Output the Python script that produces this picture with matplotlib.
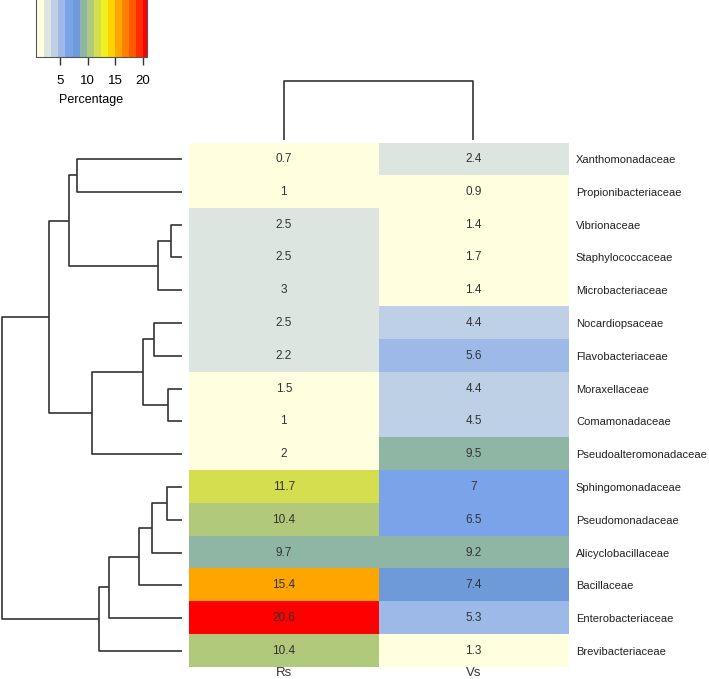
import matplotlib
matplotlib.use('Agg')
import matplotlib.pyplot as plt
import numpy as np
from matplotlib.colors import ListedColormap, BoundaryNorm
from matplotlib.cm import ScalarMappable

plt.rcParams['font.family'] = ['Liberation Sans', 'DejaVu Sans']

# ================= DATA =================
families = ['Xanthomonadaceae', 'Propionibacteriaceae', 'Vibrionaceae', 'Staphylococcaceae',
            'Microbacteriaceae', 'Nocardiopsaceae', 'Flavobacteriaceae', 'Moraxellaceae',
            'Comamonadaceae', 'Pseudoalteromonadaceae', 'Sphingomonadaceae', 'Pseudomonadaceae',
            'Alicyclobacillaceae', 'Bacillaceae', 'Enterobacteriaceae', 'Brevibacteriaceae']
samples = ['Rs', 'Vs']
rs = [0.7, 1, 2.5, 2.5, 3, 2.5, 2.2, 1.5, 1, 2, 11.7, 10.4, 9.7, 15.4, 20.6, 10.4]
vs = [2.4, 0.9, 1.4, 1.7, 1.4, 4.4, 5.6, 4.4, 4.5, 9.5, 7, 6.5, 9.2, 7.4, 5.3, 1.3]

# row dendrogram merges: (child, child, height); leaves 0..15 in display order, new clusters 16..
row_merges = [(2, 3, 10.7), (7, 8, 14), (10, 11, 15), (16, 4, 23.7), (5, 6, 27.7),
              (18, 12, 30), (20, 17, 38.4), (21, 13, 42.4), (23, 14, 73), (24, 15, 82.7),
              (22, 9, 89.4), (0, 1, 104.7), (27, 19, 113), (28, 26, 132.4), (29, 25, 180)]
col_merges = [(0, 1, 1.0)]

# colour key
key_bounds = [0.65, 2.15, 3.43, 4.71, 5.99, 7.27, 8.55, 9.83, 11.11, 12.39,
              13.67, 14.95, 16.23, 17.51, 18.79, 20.07, 20.7]
key_colors = ['#FFFFE0', '#DCE5E0', '#BDD0E5', '#9DB9E8', '#7BA3EA', '#6F9AD9', '#8FB5A5',
              '#B0C97A', '#D4DE4E', '#F2F020', '#FFD200', '#FFA500', '#FF8000', '#FF5A00',
              '#FF2D00', '#FF0000']
key_ticks = [5, 10, 15, 20]

# ================= LAYOUT =================
W, H = 709, 679
fig = plt.figure(figsize=(W / 100, H / 100), dpi=100)


def px_axes(x0, y0, x1, y1):
    return fig.add_axes([x0 / W, 1 - y1 / H, (x1 - x0) / W, (y1 - y0) / H])


cmap = ListedColormap(key_colors)
norm = BoundaryNorm(key_bounds, cmap.N)
line_col = '#333333'


def draw_dendro(ax, merges, n, orient):
    pos = {i: (float(i), 0.0) for i in range(n)}
    nid = n
    for a, b, h in merges:
        pa, ha = pos[a]
        pb, hb = pos[b]
        if orient == 'left':
            xs, ys = [ha, h, h, hb], [pa, pa, pb, pb]
        else:
            xs, ys = [pa, pa, pb, pb], [ha, h, h, hb]
        ax.plot(xs, ys, color=line_col, lw=1.2, clip_on=False, solid_capstyle='butt')
        pos[nid] = ((pa + pb) / 2, h)
        nid += 1
    ax.axis('off')


# -------- heatmap --------
hx0, hx1, hy0, hy1 = 189, 568.3, 142.7, 667.3
ax = px_axes(hx0, hy0, hx1, hy1)
data = np.column_stack([rs, vs])
ax.imshow(data, cmap=cmap, norm=norm, aspect='auto', interpolation='nearest')
for i in range(len(families)):
    for j in range(len(samples)):
        ax.text(j, i, f"{data[i, j]:g}", ha='center', va='center', fontsize=8.5, color='#333333')
ax.set_xticks(range(len(samples)))
ax.set_xticklabels(samples, fontsize=9.5, color='#333333')
ax.set_yticks(range(len(families)))
ax.set_yticklabels(families, fontsize=8.0, color='#222222')
ax.yaxis.tick_right()
ax.tick_params(axis='both', length=0)
ax.tick_params(axis='y', pad=5.5)
ax.tick_params(axis='x', pad=0)
for s in ax.spines.values():
    s.set_visible(False)

# -------- row dendrogram --------
rax = px_axes(0, hy0, 181.7, hy1)
draw_dendro(rax, row_merges, len(families), 'left')
rax.set_ylim(len(families) - 0.5, -0.5)
rax.set_xlim(row_merges[-1][2] * 1.0095, 0)

# -------- column dendrogram --------
cax = px_axes(hx0, 80.7, hx1, 140)
draw_dendro(cax, col_merges, len(samples), 'top')
cax.set_xlim(-0.5, len(samples) - 0.5)
cax.set_ylim(0, col_merges[-1][2])

# -------- colour key --------
kax = px_axes(36, -25, 146.7, 56.7)
cb = fig.colorbar(ScalarMappable(norm=norm, cmap=cmap), cax=kax, orientation='horizontal',
                  spacing='proportional')
cb.set_ticks(key_ticks)
cb.ax.minorticks_off()
cb.ax.tick_params(length=6, width=1, color='#333333', labelsize=9.5, pad=7)
cb.outline.set_edgecolor('#555555')
cb.outline.set_linewidth(0.8)
cb.set_label('Percentage', fontsize=9, labelpad=5)

fig.savefig('out.png', dpi=100)
